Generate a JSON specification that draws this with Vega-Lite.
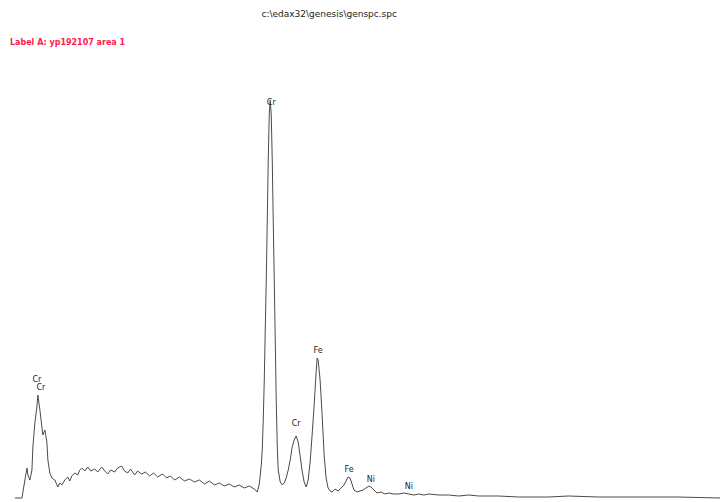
{
  "$schema": "https://vega.github.io/schema/vega-lite/v6.json",
  "width": 722,
  "height": 502,
  "padding": 0,
  "autosize": {"type": "fit", "contains": "padding"},
  "background": "white",
  "config": {"view": {"stroke": null}},
  "datasets": {
    "spectrum": [
      {"keV": 0.103, "counts": 0}, {"keV": 0.247, "counts": 0}, {"keV": 0.309, "counts": 180}, {"keV": 0.351, "counts": 300},
      {"keV": 0.371, "counts": 230}, {"keV": 0.412, "counts": 180}, {"keV": 0.454, "counts": 280}, {"keV": 0.474, "counts": 510},
      {"keV": 0.515, "counts": 750}, {"keV": 0.557, "counts": 910}, {"keV": 0.577, "counts": 1030}, {"keV": 0.619, "counts": 880},
      {"keV": 0.66, "counts": 710}, {"keV": 0.68, "counts": 630}, {"keV": 0.722, "counts": 680}, {"keV": 0.763, "counts": 560},
      {"keV": 0.784, "counts": 380}, {"keV": 0.825, "counts": 250}, {"keV": 0.866, "counts": 200}, {"keV": 0.928, "counts": 180},
      {"keV": 0.99, "counts": 110}, {"keV": 1.031, "counts": 150}, {"keV": 1.072, "counts": 130}, {"keV": 1.134, "counts": 180},
      {"keV": 1.196, "counts": 210}, {"keV": 1.237, "counts": 170}, {"keV": 1.278, "counts": 220}, {"keV": 1.34, "counts": 250},
      {"keV": 1.402, "counts": 230}, {"keV": 1.443, "counts": 280}, {"keV": 1.485, "counts": 300}, {"keV": 1.546, "counts": 270},
      {"keV": 1.608, "counts": 310}, {"keV": 1.67, "counts": 270}, {"keV": 1.753, "counts": 290}, {"keV": 1.814, "counts": 260},
      {"keV": 1.897, "counts": 310}, {"keV": 1.959, "counts": 270}, {"keV": 2.021, "counts": 240}, {"keV": 2.082, "counts": 280},
      {"keV": 2.165, "counts": 260}, {"keV": 2.227, "counts": 300}, {"keV": 2.309, "counts": 320}, {"keV": 2.371, "counts": 270},
      {"keV": 2.433, "counts": 250}, {"keV": 2.495, "counts": 290}, {"keV": 2.577, "counts": 230}, {"keV": 2.639, "counts": 270},
      {"keV": 2.722, "counts": 240}, {"keV": 2.804, "counts": 260}, {"keV": 2.887, "counts": 220}, {"keV": 2.969, "counts": 250},
      {"keV": 3.052, "counts": 210}, {"keV": 3.155, "counts": 240}, {"keV": 3.237, "counts": 200}, {"keV": 3.32, "counts": 220},
      {"keV": 3.402, "counts": 180}, {"keV": 3.505, "counts": 210}, {"keV": 3.608, "counts": 170}, {"keV": 3.711, "counts": 190},
      {"keV": 3.814, "counts": 160}, {"keV": 3.918, "counts": 180}, {"keV": 4.021, "counts": 140}, {"keV": 4.124, "counts": 170},
      {"keV": 4.227, "counts": 130}, {"keV": 4.33, "counts": 150}, {"keV": 4.433, "counts": 120}, {"keV": 4.536, "counts": 140},
      {"keV": 4.639, "counts": 110}, {"keV": 4.742, "counts": 130}, {"keV": 4.845, "counts": 100}, {"keV": 4.948, "counts": 120},
      {"keV": 5.052, "counts": 90}, {"keV": 5.113, "counts": 60}, {"keV": 5.155, "counts": 140}, {"keV": 5.196, "counts": 330},
      {"keV": 5.216, "counts": 480}, {"keV": 5.237, "counts": 780}, {"keV": 5.258, "counts": 1180}, {"keV": 5.278, "counts": 1680},
      {"keV": 5.299, "counts": 2180}, {"keV": 5.32, "counts": 2780}, {"keV": 5.34, "counts": 3380}, {"keV": 5.361, "counts": 3830},
      {"keV": 5.381, "counts": 3980}, {"keV": 5.402, "counts": 3830}, {"keV": 5.423, "counts": 3380}, {"keV": 5.443, "counts": 2780},
      {"keV": 5.464, "counts": 2180}, {"keV": 5.485, "counts": 1580}, {"keV": 5.505, "counts": 980}, {"keV": 5.526, "counts": 530},
      {"keV": 5.546, "counts": 280}, {"keV": 5.588, "counts": 160}, {"keV": 5.629, "counts": 130}, {"keV": 5.67, "counts": 150},
      {"keV": 5.711, "counts": 200}, {"keV": 5.753, "counts": 280}, {"keV": 5.794, "counts": 380}, {"keV": 5.835, "counts": 510},
      {"keV": 5.876, "counts": 580}, {"keV": 5.918, "counts": 620}, {"keV": 5.959, "counts": 560}, {"keV": 6.0, "counts": 420},
      {"keV": 6.041, "counts": 270}, {"keV": 6.082, "counts": 160}, {"keV": 6.124, "counts": 110}, {"keV": 6.165, "counts": 180},
      {"keV": 6.206, "counts": 360}, {"keV": 6.247, "counts": 630}, {"keV": 6.289, "counts": 930}, {"keV": 6.33, "counts": 1260},
      {"keV": 6.351, "counts": 1400}, {"keV": 6.371, "counts": 1380}, {"keV": 6.412, "counts": 1180}, {"keV": 6.454, "counts": 830},
      {"keV": 6.495, "counts": 430}, {"keV": 6.536, "counts": 200}, {"keV": 6.577, "counts": 100}, {"keV": 6.619, "counts": 70},
      {"keV": 6.66, "counts": 60}, {"keV": 6.722, "counts": 90}, {"keV": 6.784, "counts": 70}, {"keV": 6.845, "counts": 100},
      {"keV": 6.907, "counts": 130}, {"keV": 6.948, "counts": 170}, {"keV": 6.99, "counts": 210}, {"keV": 7.031, "counts": 200},
      {"keV": 7.072, "counts": 140}, {"keV": 7.113, "counts": 80}, {"keV": 7.175, "counts": 60}, {"keV": 7.237, "counts": 70},
      {"keV": 7.299, "counts": 80}, {"keV": 7.361, "counts": 100}, {"keV": 7.423, "counts": 120}, {"keV": 7.464, "counts": 110},
      {"keV": 7.526, "counts": 80}, {"keV": 7.588, "counts": 50}, {"keV": 7.67, "counts": 60}, {"keV": 7.753, "counts": 40},
      {"keV": 7.835, "counts": 50}, {"keV": 7.938, "counts": 40}, {"keV": 8.041, "counts": 40}, {"keV": 8.144, "counts": 50},
      {"keV": 8.247, "counts": 40}, {"keV": 8.351, "counts": 30}, {"keV": 8.454, "counts": 40}, {"keV": 8.557, "counts": 30},
      {"keV": 8.66, "counts": 40}, {"keV": 8.866, "counts": 30}, {"keV": 9.072, "counts": 30}, {"keV": 9.278, "counts": 20},
      {"keV": 9.485, "counts": 30}, {"keV": 9.691, "counts": 20}, {"keV": 10.103, "counts": 20}, {"keV": 10.515, "counts": 10},
      {"keV": 11.134, "counts": 10}, {"keV": 11.546, "counts": 20}, {"keV": 12.165, "counts": 10}, {"keV": 12.99, "counts": 10},
      {"keV": 13.814, "counts": 10}, {"keV": 14.68, "counts": 0}
    ],
    "peaks": [
      {"keV": 0.557, "counts": 1180, "element": "Cr"},
      {"keV": 0.639, "counts": 1100, "element": "Cr"},
      {"keV": 5.402, "counts": 3950, "element": "Cr"},
      {"keV": 5.918, "counts": 740, "element": "Cr"},
      {"keV": 6.371, "counts": 1470, "element": "Fe"},
      {"keV": 7.01, "counts": 280, "element": "Fe"},
      {"keV": 7.464, "counts": 180, "element": "Ni"},
      {"keV": 8.247, "counts": 110, "element": "Ni"}
    ]
  },
  "layer": [
    {
      "data": {"name": "spectrum"},
      "mark": {"type": "line", "color": "#4a4a4a", "strokeWidth": 1, "interpolate": "linear"},
      "encoding": {
        "x": {"field": "keV", "type": "quantitative", "scale": {"domain": [-0.206, 14.68], "nice": false, "zero": false}, "axis": null},
        "y": {"field": "counts", "type": "quantitative", "scale": {"domain": [-40, 4980], "nice": false, "zero": false}, "axis": null}
      }
    },
    {
      "data": {"name": "peaks"},
      "mark": {"type": "text", "fontSize": 8, "font": "DejaVu Sans", "color": "#222222", "baseline": "middle", "align": "center"},
      "encoding": {
        "x": {"field": "keV", "type": "quantitative"},
        "y": {"field": "counts", "type": "quantitative"},
        "text": {"field": "element"}
      }
    },
    {
      "data": {"values": [{"keV": 6.6, "counts": 4840, "label": "c:\\edax32\\genesis\\genspc.spc"}]},
      "mark": {"type": "text", "fontSize": 9, "font": "DejaVu Sans", "color": "#222222", "baseline": "middle", "align": "center"},
      "encoding": {
        "x": {"field": "keV", "type": "quantitative"},
        "y": {"field": "counts", "type": "quantitative"},
        "text": {"field": "label"}
      }
    },
    {
      "data": {"values": [{"keV": 0.0, "counts": 4550, "label": "Label A: yp192107 area 1"}]},
      "mark": {"type": "text", "fontSize": 8, "fontWeight": "bold", "font": "DejaVu Sans", "color": "#ff1a50", "baseline": "middle", "align": "left"},
      "encoding": {
        "x": {"field": "keV", "type": "quantitative"},
        "y": {"field": "counts", "type": "quantitative"},
        "text": {"field": "label"}
      }
    }
  ]
}
